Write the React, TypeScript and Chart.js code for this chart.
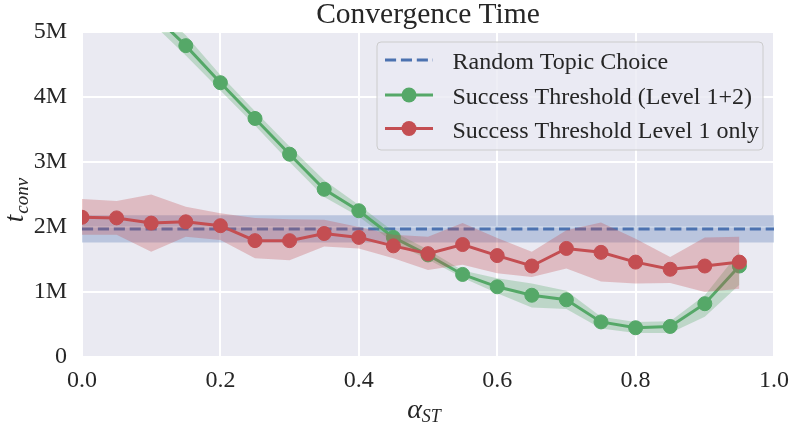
import React, { useEffect, useRef } from "react";
import { Chart, registerables } from "chart.js";

Chart.register(...registerables);

// ---- data (values in millions) ----
const alphaST = [0, 0.05, 0.1, 0.15, 0.2, 0.25, 0.3, 0.35, 0.4, 0.45, 0.5, 0.55, 0.6, 0.65, 0.7, 0.75, 0.8, 0.85, 0.9, 0.95];
const level12Mean = [6.4, 5.85, 5.3, 4.79, 4.22, 3.67, 3.12, 2.58, 2.25, 1.84, 1.57, 1.27, 1.08, 0.95, 0.88, 0.54, 0.45, 0.47, 0.82, 1.4];
const level12Low = [6.25, 5.7, 5.15, 4.64, 4.1, 3.56, 3.0, 2.46, 2.16, 1.76, 1.5, 1.22, 0.98, 0.76, 0.74, 0.44, 0.37, 0.37, 0.62, 1.11];
const level12High = [6.55, 6.0, 5.45, 4.95, 4.34, 3.78, 3.24, 2.72, 2.34, 1.93, 1.65, 1.33, 1.21, 1.13, 1.02, 0.62, 0.54, 0.55, 0.95, 1.62];
const level1Mean = [2.15, 2.14, 2.06, 2.08, 2.02, 1.79, 1.79, 1.9, 1.84, 1.71, 1.59, 1.73, 1.56, 1.4, 1.67, 1.61, 1.46, 1.35, 1.4, 1.46];
const level1Low = [1.88, 1.88, 1.62, 1.85, 1.8, 1.52, 1.49, 1.7, 1.67, 1.52, 1.34, 1.42, 1.29, 1.23, 1.36, 1.16, 1.13, 1.14, 1.0, 1.05];
const level1High = [2.43, 2.4, 2.5, 2.31, 2.21, 2.14, 2.12, 2.11, 2.0, 1.88, 1.85, 2.06, 1.83, 1.62, 1.95, 2.07, 1.82, 1.54, 1.84, 1.85];
const randomX = [0, 1];
const randomMean = [1.97, 1.97];
const randomLow = [1.76, 1.76];
const randomHigh = [2.18, 2.18];

const xTickLabels = ["0.0", "0.2", "0.4", "0.6", "0.8", "1.0"];
const yTickLabels = ["0", "1M", "2M", "3M", "4M", "5M"];
const legendLabels = ["Random Topic Choice", "Success Threshold (Level 1+2)", "Success Threshold Level 1 only"];
const titleText = "Convergence Time";

const BLUE = "#4C72B0";
const GREEN = "#55A868";
const RED = "#C44E52";
const TEXT = "#262626";
const SERIF = '"Liberation Serif", "Times New Roman", serif';

const pts = (xs: number[], ys: number[]) => xs.map((x, i) => ({ x, y: ys[i] }));

const decoPlugin = {
  id: "deco",
  beforeDraw(chart: any) {
    const { ctx, chartArea: a } = chart;
    ctx.save();
    ctx.fillStyle = "#ffffff";
    ctx.fillRect(0, 0, chart.width, chart.height);
    ctx.fillStyle = "#EAEAF2";
    ctx.fillRect(a.left, a.top, a.right - a.left, a.bottom - a.top);
    ctx.restore();
  },
  afterDraw(chart: any) {
    const { ctx, chartArea: a } = chart;
    ctx.save();
    ctx.fillStyle = TEXT;
    ctx.textBaseline = "alphabetic";

    // title
    ctx.font = `29.5px ${SERIF}`;
    ctx.textAlign = "center";
    ctx.fillText(titleText, (a.left + a.right) / 2, 23);

    // x label: alpha_ST
    ctx.textAlign = "left";
    const mainX = `italic 28px ${SERIF}`;
    const subX = `italic 18px ${SERIF}`;
    ctx.font = mainX;
    const wa = ctx.measureText("\u03b1").width;
    ctx.font = subX;
    const ws = ctx.measureText("ST").width;
    const sx = 424 - (wa + ws) / 2;
    ctx.font = mainX;
    ctx.fillText("\u03b1", sx, 418);
    ctx.font = subX;
    ctx.fillText("ST", sx + wa, 422);

    // y label: t_conv
    ctx.save();
    ctx.translate(23, 200.5);
    ctx.rotate(-Math.PI / 2);
    const mainY = `italic 27px ${SERIF}`;
    const subY = `italic 19px ${SERIF}`;
    ctx.font = mainY;
    const wt = ctx.measureText("t").width;
    ctx.font = subY;
    const wc = ctx.measureText("conv").width;
    const sy = -(wt + wc) / 2;
    ctx.font = mainY;
    ctx.fillText("t", sy, 0);
    ctx.font = subY;
    ctx.fillText("conv", sy + wt + 1, 5);
    ctx.restore();

    // legend
    const bx = 377, by = 42, bw = 386, bh = 108, r = 4;
    ctx.beginPath();
    ctx.moveTo(bx + r, by);
    ctx.lineTo(bx + bw - r, by);
    ctx.quadraticCurveTo(bx + bw, by, bx + bw, by + r);
    ctx.lineTo(bx + bw, by + bh - r);
    ctx.quadraticCurveTo(bx + bw, by + bh, bx + bw - r, by + bh);
    ctx.lineTo(bx + r, by + bh);
    ctx.quadraticCurveTo(bx, by + bh, bx, by + bh - r);
    ctx.lineTo(bx, by + r);
    ctx.quadraticCurveTo(bx, by, bx + r, by);
    ctx.closePath();
    ctx.fillStyle = "rgba(234,234,242,0.8)";
    ctx.fill();
    ctx.strokeStyle = "#CCCCCC";
    ctx.lineWidth = 1;
    ctx.stroke();

    const rows = [60, 95, 128.5];
    const colors = [BLUE, GREEN, RED];
    rows.forEach((ry, i) => {
      ctx.strokeStyle = colors[i];
      ctx.lineWidth = 3;
      ctx.lineCap = "butt";
      ctx.setLineDash(i === 0 ? [11.1, 4.8] : []);
      ctx.beginPath();
      ctx.moveTo(385, ry);
      ctx.lineTo(433, ry);
      ctx.stroke();
      ctx.setLineDash([]);
      if (i > 0) {
        ctx.fillStyle = colors[i];
        ctx.beginPath();
        ctx.arc(409, ry, 7.5, 0, Math.PI * 2);
        ctx.fill();
      }
      ctx.fillStyle = TEXT;
      ctx.font = `24px ${SERIF}`;
      ctx.textAlign = "left";
      ctx.fillText(legendLabels[i], 452.5, ry + 9);
    });
    ctx.restore();
  },
};

export default function App() {
  const ref = useRef<HTMLCanvasElement | null>(null);

  useEffect(() => {
    document.body.style.margin = "0";
    const canvas = ref.current;
    if (!canvas) return;
    const band = (data: any, order: number) => ({
      data,
      borderWidth: 0,
      pointRadius: 0,
      pointHoverRadius: 0,
      fill: false,
      order,
      clip: 0,
    });
    const chart = new Chart(canvas, {
      type: "line",
      data: {
        datasets: [
          { ...band(pts(randomX, randomLow), 12) } as any,
          { ...band(pts(randomX, randomHigh), 12), fill: 0, backgroundColor: "rgba(76,114,176,0.3)" } as any,
          {
            data: pts(randomX, randomMean),
            borderColor: BLUE,
            borderWidth: 3,
            borderDash: [11.1, 4.8],
            pointRadius: 0,
            fill: false,
            order: 11,
            clip: 0,
          } as any,
          { ...band(pts(alphaST, level12Low), 10) } as any,
          { ...band(pts(alphaST, level12High), 10), fill: 3, backgroundColor: "rgba(85,168,104,0.3)" } as any,
          {
            data: pts(alphaST, level12Mean),
            borderColor: GREEN,
            backgroundColor: GREEN,
            borderWidth: 3,
            pointRadius: 7,
            pointBorderWidth: 1,
            pointBorderColor: GREEN,
            pointBackgroundColor: GREEN,
            fill: false,
            order: 9,
            clip: 0,
          } as any,
          { ...band(pts(alphaST, level1Low), 8) } as any,
          { ...band(pts(alphaST, level1High), 8), fill: 6, backgroundColor: "rgba(196,78,82,0.3)" } as any,
          {
            data: pts(alphaST, level1Mean),
            borderColor: RED,
            backgroundColor: RED,
            borderWidth: 3,
            pointRadius: 7,
            pointBorderWidth: 1,
            pointBorderColor: RED,
            pointBackgroundColor: RED,
            fill: false,
            order: 7,
            clip: 0,
          } as any,
        ],
      },
      options: {
        responsive: false,
        animation: false,
        devicePixelRatio: 1,
        events: [],
        layout: { padding: { left: 0, right: 17, top: 32, bottom: 0 } },
        plugins: {
          legend: { display: false },
          title: { display: false },
          tooltip: { enabled: false },
        },
        elements: { line: { tension: 0 } },
        scales: {
          x: {
            type: "linear",
            min: 0,
            max: 1,
            afterFit: (s: any) => {
              s.height = 75;
              s.paddingLeft = 0;
              s.paddingRight = 0;
            },
            afterBuildTicks: (s: any) => {
              s.ticks = xTickLabels.map((_, i) => ({ value: i * 0.2 }));
            },
            ticks: {
              callback: (_v: any, i: number) => xTickLabels[i],
              font: { family: SERIF, size: 24 },
              color: TEXT,
              padding: 9,
              maxRotation: 0,
              autoSkip: false,
            },
            grid: { color: "#ffffff", lineWidth: 2, drawTicks: false },
            border: { display: false },
          },
          y: {
            type: "linear",
            min: 0,
            max: 5,
            afterFit: (s: any) => {
              s.width = 82;
              s.paddingTop = 0;
              s.paddingBottom = 0;
            },
            afterBuildTicks: (s: any) => {
              s.ticks = yTickLabels.map((_, i) => ({ value: i }));
            },
            ticks: {
              callback: (_v: any, i: number) => yTickLabels[i],
              font: { family: SERIF, size: 24 },
              color: TEXT,
              padding: 15,
              autoSkip: false,
            },
            grid: { color: "#ffffff", lineWidth: 2, drawTicks: false },
            border: { display: false },
          },
        },
      } as any,
      plugins: [decoPlugin],
    });
    return () => chart.destroy();
  }, []);

  return (
    <div style={{ position: "absolute", left: 0, top: 0, width: 791, height: 432 }}>
      <canvas ref={ref} width={791} height={432} style={{ width: 791, height: 432, display: "block" }} />
    </div>
  );
}
